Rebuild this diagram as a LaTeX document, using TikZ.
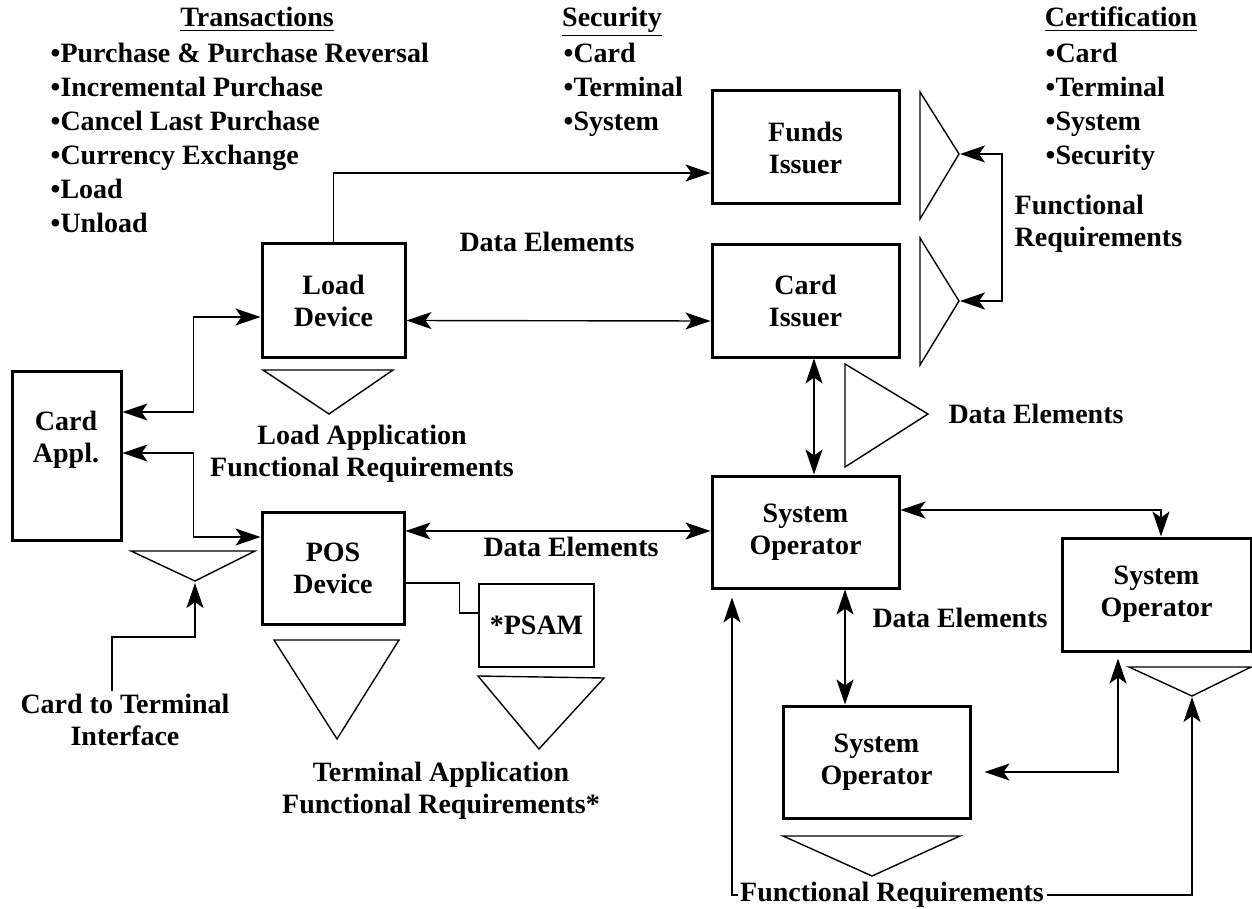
\documentclass[tikz,border=0pt]{standalone}
\usepackage{fontspec}
\setmainfont{Liberation Serif}
\usepackage{tikz}
\usetikzlibrary{arrows.meta}

\tikzset{
  box/.style={draw, line width=1.5pt, inner sep=0pt, align=center},
  smallbox/.style={draw, line width=0.7pt, inner sep=0pt, align=center},
  txt/.style={align=center, inner sep=1pt},
  heading/.style={inner sep=1pt, anchor=base},
  itemlist/.style={align=left, inner sep=0pt, anchor=north west, font=\bfseries\fontsize{14}{17}\selectfont},
  tri/.style={draw, line width=0.7pt, line join=miter},
}

\begin{document}
\begin{tikzpicture}[x=0.5pt, y=-0.5pt, line width=0.7pt,
    font=\bfseries\fontsize{14}{16}\selectfont,
    >={Stealth[length=12.5pt, width=8.5pt, inset=3pt]}]
  \useasboundingbox (0,0) rectangle (1252,909);

  % Headings and lists
  \node[heading] (transhd) at (257,27) {\underline{Transactions}};
  \node[itemlist] (translist) at (50,42) {•Purchase \& Purchase Reversal\\•Incremental Purchase\\•Cancel Last Purchase\\•Currency Exchange\\•Load\\•Unload};
  \node[heading] (sechd) at (612,27) {\underline{Security}};
  \node[itemlist] (seclist) at (563,42) {•Card\\•Terminal\\•System};
  \node[heading] (certhd) at (1121,27) {\underline{Certification}};
  \node[itemlist] (certlist) at (1045,42) {•Card\\•Terminal\\•System\\•Security};

  % Boxes
  \node[box, minimum width=93.5pt, minimum height=56.5pt] (funds) at (805.5,147.5) {Funds\\Issuer};
  \node[box, minimum width=93.5pt, minimum height=56pt] (cardiss) at (805.5,301) {Card\\Issuer};
  \node[box, minimum width=71.5pt, minimum height=56.5pt] (loaddev) at (333.5,300.5) {Load\\Device};
  \node[box, minimum width=54.5pt, minimum height=84.5pt] (cardappl) at (66.5,455.5) {};
  \node[txt] (cardappltxt) at (66,440) {Card\\Appl.};
  \node[box, minimum width=71pt, minimum height=56pt] (pos) at (333,568) {POS\\Device};
  \node[smallbox, minimum width=57.5pt, minimum height=41.5pt] (psam) at (536.5,625.5) {*PSAM};
  \node[box, minimum width=93.5pt, minimum height=56pt] (sysop) at (805.5,532) {System\\Operator};
  \node[box, minimum width=94.5pt, minimum height=56.5pt] (sysopR) at (1156.5,594.5) {System\\Operator};
  \node[box, minimum width=93.5pt, minimum height=56pt] (sysopB) at (876.5,762) {System\\Operator};

  % Triangles
  \draw[tri] (263,370) -- (393,370) -- (329,414) -- cycle;
  \draw[tri] (131,551) -- (255,551) -- (195,581) -- cycle;
  \draw[tri] (274,640) -- (399,640) -- (337,739) -- cycle;
  \draw[tri] (478,676) -- (604,678) -- (539,749) -- cycle;
  \draw[tri] (920,92) -- (920,219) -- (959,154) -- cycle;
  \draw[tri] (920,238) -- (920,365) -- (959,301) -- cycle;
  \draw[tri] (845,364) -- (845,467) -- (928,414) -- cycle;
  \draw[tri] (1129,667) -- (1251,667) -- (1192,696) -- cycle;
  \draw[tri] (783,836) -- (960,836) -- (872,876) -- cycle;
  \coordinate (ctapex) at (195,583);
  \coordinate (fundsapex) at (960,154);
  \coordinate (cardapex) at (960,301);
  \coordinate (sysRapex) at (1192,697);

  % Labels
  \node[txt] (dataeltop) at (547,242) {Data Elements};
  \node[txt] (dataelpos) at (571,547) {Data Elements};
  \node[txt] (dataelright) at (1036,414) {Data Elements};
  \node[txt] (dataelsys) at (960,618) {Data Elements};
  \node[txt] (loadfr) at (362,454) {Load Application\\Functional Requirements};
  \node[txt] (ctitext) at (125,720) {Card to Terminal\\Interface};
  \node[txt] (termfr) at (441,791) {Terminal Application\\Functional Requirements*};
  \node[txt, align=left, anchor=west] (certfr) at (1012,224) {Functional\\Requirements};
  \node[txt] (frtext) at (892,895) {Functional Requirements};

  % Connectors
  \draw[->] (loaddev.north) |- ([yshift=-12.75pt]funds.west);
  \draw[<->] ([yshift=-10pt]loaddev.east) -- ([yshift=-10pt]cardiss.west);
  \draw[<->] ([yshift=21.75pt]cardappl.east) -- ++(71,0) |- ([yshift=-8.25pt]loaddev.west);
  \draw[<->] ([yshift=1.25pt]cardappl.east) -- ++(71,0) |- ([yshift=15.5pt]pos.west);
  \draw[<->] ([xshift=4.25pt]cardiss.south) -- ([xshift=4.25pt]sysop.north);
  \draw[<->] ([yshift=18.5pt]pos.east) -- ([yshift=0.5pt]sysop.west);
  \draw ([yshift=-7.5pt]pos.east) -- ++(54,0) |- ([yshift=6.25pt]psam.west);
  \draw[->] ([xshift=-6.5pt]ctitext.north) |- ([yshift=-27pt]ctapex) -- (ctapex);
  \draw[<->] (fundsapex) -- ++(42,0) |- (cardapex);
  \draw[<->] ([yshift=11pt]sysop.east) -| ([xshift=2.25pt]sysopR.north);
  \draw[<->] ([xshift=19.75pt]sysop.south) -- ([xshift=-15.75pt]sysopB.north);
  \draw[<->, shorten <=6.5pt, shorten >=3pt] ([yshift=-5pt]sysopB.east) -| ([xshift=-19.25pt]sysopR.south);
  \draw[->, shorten >=4pt] (frtext.west) -| ([xshift=-36.75pt]sysop.south);
  \draw[->] (frtext.east) -| (sysRapex);
\end{tikzpicture}
\end{document}
